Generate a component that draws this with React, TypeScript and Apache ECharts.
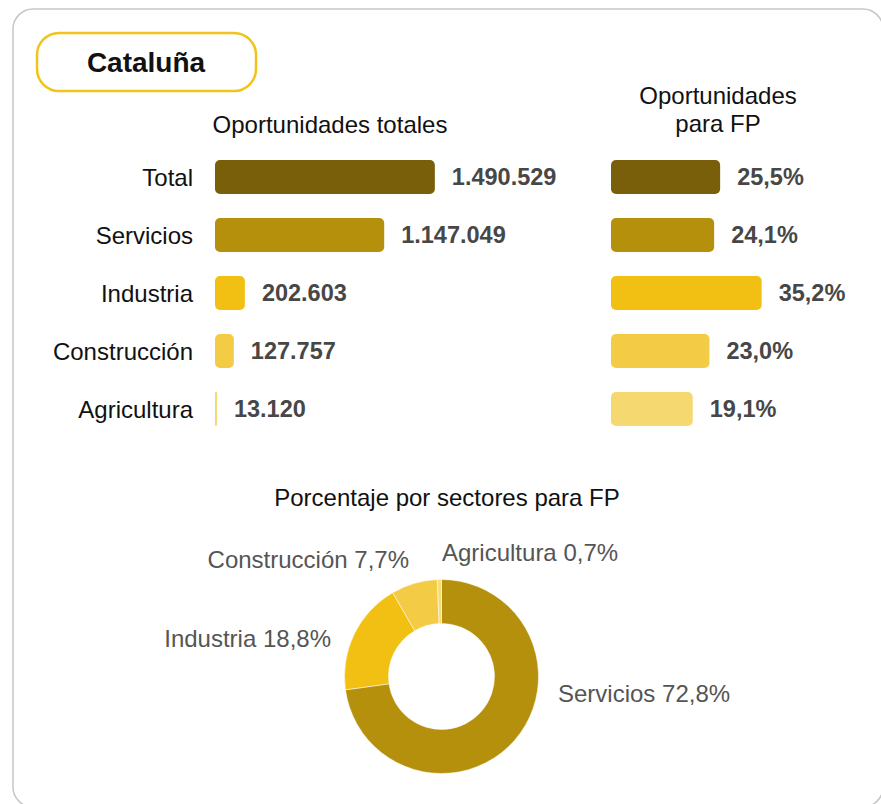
import React, { useEffect, useRef } from "react";
import * as echarts from "echarts";

const categories = ["Total", "Servicios", "Industria", "Construcción", "Agricultura"];
const totalOpportunities = [1490529, 1147049, 202603, 127757, 13120];
const fpShare = [25.5, 24.1, 35.2, 23.0, 19.1];
const barColors = ["#7a5f0b", "#b5900c", "#f2c012", "#f4cb45", "#f6d870"];

const pieNames = ["Servicios", "Industria", "Construcción", "Agricultura"];
const piePercent = [72.8, 18.8, 7.7, 0.7];
const pieColors = ["#b5900c", "#f2c012", "#f4cb45", "#f7dc7c"];

// label placement for donut labels (x, y, align)
const pieLabelPlacement: [number, number, string][] = [
  [558, 693, "left"],
  [331, 638, "right"],
  [409, 559, "right"],
  [442, 552, "left"],
];

const FONT = "'Liberation Sans', Arial, sans-serif";
const FS = 24;

const fmtThousands = (v: number) => String(v).replace(/\B(?=(\d{3})+(?!\d))/g, ".");
const fmtPct = (v: number) => v.toFixed(1).replace(".", ",") + "%";

export default function App() {
  const ref = useRef<HTMLDivElement>(null);
  useEffect(() => {
    if (!ref.current) return;
    const chart = echarts.init(ref.current, null, { renderer: "svg" });
    const option: any = {
      animation: false,
      backgroundColor: "#ffffff",
      textStyle: { fontFamily: FONT },
      graphic: [
        {
          type: "rect",
          shape: { x: 13, y: 9, width: 870, height: 798, r: 20 },
          style: { fill: "#ffffff", stroke: "#c6c6c6", lineWidth: 1.5 },
          z: -10,
        },
        {
          type: "rect",
          shape: { x: 37, y: 33, width: 219, height: 58, r: 22 },
          style: { fill: "#ffffff", stroke: "#f2c31a", lineWidth: 2.5 },
        },
        {
          type: "text",
          x: 146,
          y: 62,
          style: {
            text: "Cataluña",
            font: `bold 28px ${FONT}`,
            fill: "#111111",
            textAlign: "center",
            textVerticalAlign: "middle",
          },
        },
        {
          type: "text",
          x: 330,
          y: 124,
          style: {
            text: "Oportunidades totales",
            font: `${FS}px ${FONT}`,
            fill: "#111111",
            textAlign: "center",
            textVerticalAlign: "middle",
          },
        },
        {
          type: "text",
          x: 718,
          y: 109,
          style: {
            text: "Oportunidades\npara FP",
            font: `${FS}px ${FONT}`,
            lineHeight: 28,
            fill: "#111111",
            textAlign: "center",
            textVerticalAlign: "middle",
          },
        },
        {
          type: "text",
          x: 447,
          y: 497,
          style: {
            text: "Porcentaje por sectores para FP",
            font: `${FS}px ${FONT}`,
            fill: "#111111",
            textAlign: "center",
            textVerticalAlign: "middle",
          },
        },
      ],
      grid: [
        { left: 215, top: 148, width: 295, height: 290 },
        { left: 611, top: 148, width: 214, height: 290 },
      ],
      xAxis: [
        { gridIndex: 0, type: "value", min: 0, max: 2000000, show: false },
        { gridIndex: 1, type: "value", min: 0, max: 50, show: false },
      ],
      yAxis: [
        {
          gridIndex: 0,
          type: "category",
          data: categories,
          inverse: true,
          axisLine: { show: false },
          axisTick: { show: false },
          splitLine: { show: false },
          axisLabel: {
            margin: 22,
            fontSize: FS,
            color: "#111111",
            fontFamily: FONT,
          },
        },
        {
          gridIndex: 1,
          type: "category",
          data: categories,
          inverse: true,
          show: false,
        },
      ],
      series: [
        {
          type: "bar",
          xAxisIndex: 0,
          yAxisIndex: 0,
          barWidth: 34,
          data: totalOpportunities.map((v, i) => ({
            value: v,
            itemStyle: { color: barColors[i], borderRadius: 5 },
          })),
          label: {
            show: true,
            position: "right",
            distance: 17,
            fontSize: 23.5,
            fontWeight: "bold",
            color: "#474747",
            fontFamily: FONT,
            formatter: (p: any) => fmtThousands(p.value),
          },
        },
        {
          type: "bar",
          xAxisIndex: 1,
          yAxisIndex: 1,
          barWidth: 34,
          data: fpShare.map((v, i) => ({
            value: v,
            itemStyle: { color: barColors[i], borderRadius: 5 },
          })),
          label: {
            show: true,
            position: "right",
            distance: 17,
            fontSize: 23.5,
            fontWeight: "bold",
            color: "#474747",
            fontFamily: FONT,
            formatter: (p: any) => fmtPct(p.value),
          },
        },
        {
          type: "pie",
          center: [441.5, 676.5],
          radius: [53, 97],
          startAngle: 90,
          clockwise: true,
          avoidLabelOverlap: false,
          data: piePercent.map((v, i) => ({
            name: pieNames[i],
            value: v,
            itemStyle: { color: pieColors[i], borderColor: "#ffffff", borderWidth: 0.5 },
          })),
          label: {
            show: true,
            position: "outside",
            fontSize: FS,
            color: "#555555",
            fontFamily: FONT,
            formatter: (p: any) => `${p.name} ${fmtPct(p.value)}`,
          },
          labelLine: { show: false },
          labelLayout: (params: any) => {
            const pl = pieLabelPlacement[params.dataIndex];
            return { x: pl[0], y: pl[1], align: pl[2], verticalAlign: "middle" };
          },
          emphasis: { disabled: true },
        },
      ],
    };
    chart.setOption(option);
    return () => chart.dispose();
  }, []);
  return (
    <div
      ref={ref}
      style={{ position: "fixed", left: 0, top: 0, width: 881, height: 804 }}
    />
  );
}
